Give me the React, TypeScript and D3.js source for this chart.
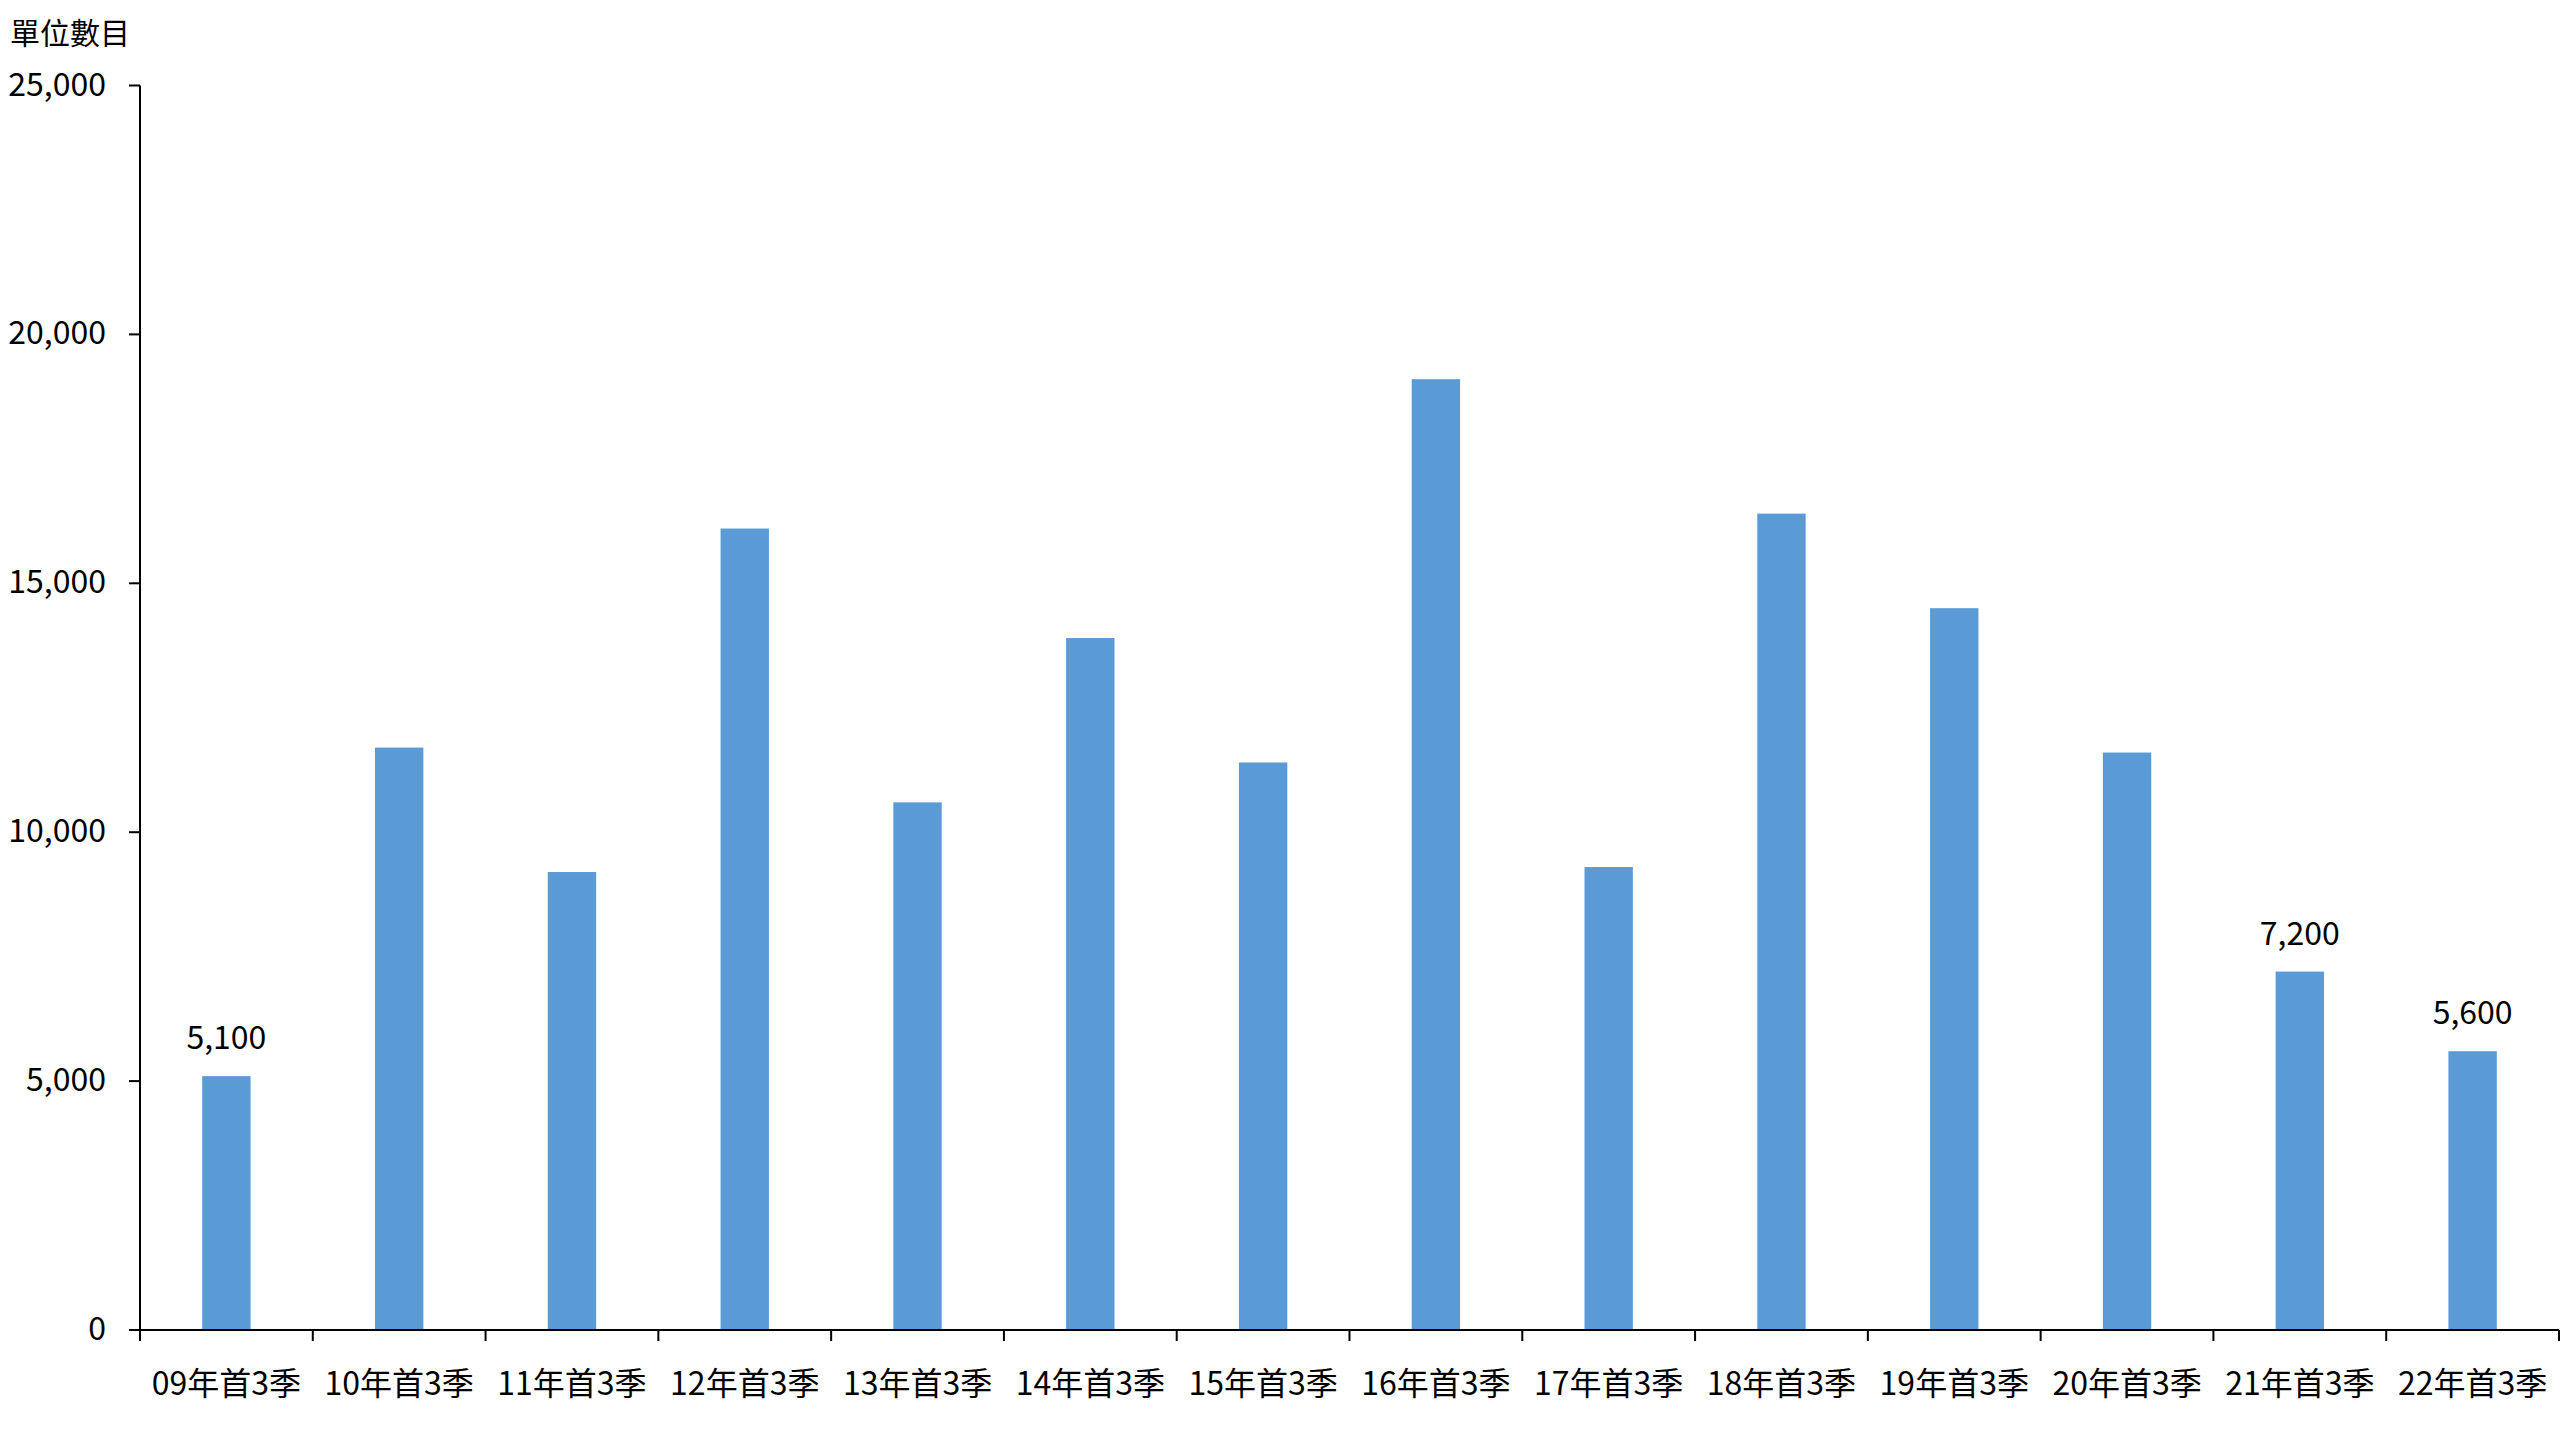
import React from "react";
import * as d3 from "d3";

const categories = [
  "09年首3季", "10年首3季", "11年首3季", "12年首3季", "13年首3季", "14年首3季", "15年首3季",
  "16年首3季", "17年首3季", "18年首3季", "19年首3季", "20年首3季", "21年首3季", "22年首3季",
];
const values = [5100, 11700, 9200, 16100, 10600, 13900, 11400, 19100, 9300, 16400, 14500, 11600, 7200, 5600];
const labelled = [true, false, false, false, false, false, false, false, false, false, false, false, true, true];
const yTicks = [0, 5000, 10000, 15000, 20000, 25000];
const yTitle = "單位數目";

const W = 2560;
const H = 1440;
const left = 140;
const right = 2559;
const top = 85.5;
const bottom = 1330;
const FONT = "'Noto Sans CJK TC', 'Noto Sans', sans-serif";

export default function App() {
  const x = d3.scaleBand<string>().domain(categories).range([left, right]).paddingInner(0.72).paddingOuter(0.36);
  const y = d3.scaleLinear().domain([0, 25000]).range([bottom, top]);
  const step = x.step();
  const fmt = d3.format(",");
  const bw = x.bandwidth();

  return (
    <svg width={W} height={H} style={{ position: "absolute", left: 0, top: 0, background: "#fff" }} fontFamily={FONT}>
      <rect x={0} y={0} width={W} height={H} fill="#fff" />
      <text x={10} y={44} fontSize={30} fill="#000">{yTitle}</text>
      {categories.map((c, i) => (
        <rect key={c} x={x(c)!} y={y(values[i])} width={bw} height={y(0) - y(values[i])} fill="#5B9BD5" />
      ))}
      {/* y axis */}
      <line x1={left} x2={left} y1={top} y2={bottom} stroke="#000" strokeWidth={2} />
      {yTicks.map((t) => (
        <g key={t}>
          <line x1={left - 11} x2={left} y1={y(t)} y2={y(t)} stroke="#000" strokeWidth={2} />
          <text x={106} y={y(t) + 10} fontSize={32} textAnchor="end" fill="#000">{fmt(t)}</text>
        </g>
      ))}
      {/* x axis */}
      <line x1={left} x2={right} y1={bottom} y2={bottom} stroke="#000" strokeWidth={2} />
      {d3.range(categories.length + 1).map((i) => (
        <line key={i} x1={left + i * step} x2={left + i * step} y1={bottom} y2={bottom + 11} stroke="#000" strokeWidth={2} />
      ))}
      {categories.map((c) => (
        <text key={c} x={x(c)! + bw / 2} y={1395} fontSize={32} textAnchor="middle" fill="#000">{c}</text>
      ))}
      {categories.map((c, i) =>
        labelled[i] ? (
          <text key={c + "l"} x={x(c)! + bw / 2} y={y(values[i]) - 27} fontSize={32} textAnchor="middle" fill="#000">
            {fmt(values[i])}
          </text>
        ) : null
      )}
    </svg>
  );
}
